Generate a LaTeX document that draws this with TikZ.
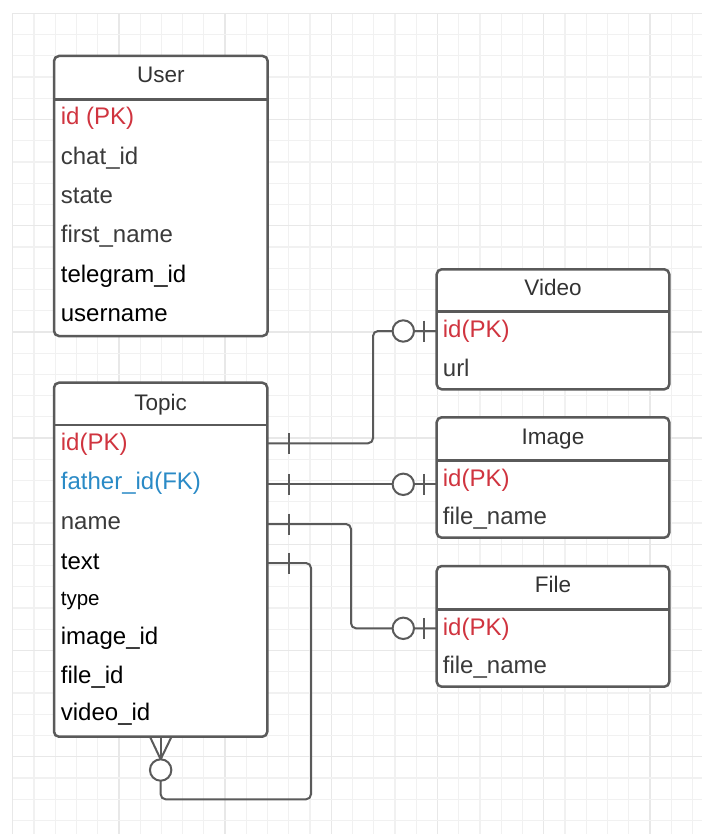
\documentclass[tikz,border=0pt]{standalone}
\usepackage{fontspec}
\setmainfont{Liberation Sans}
\usetikzlibrary{calc}
\definecolor{edgegray}{HTML}{5A5A5A}
\definecolor{headgray}{HTML}{333333}
\definecolor{softtext}{HTML}{3A3A3A}
\definecolor{pkred}{HTML}{D0343F}
\definecolor{fkblue}{HTML}{2A8AC6}
\definecolor{gridminor}{HTML}{F1F1F1}
\definecolor{gridmajor}{HTML}{E8E8E8}
\tikzset{
  tbl/.style={draw=edgegray, line width=2.5pt, fill=white, rounded corners=5pt,
    anchor=north west, inner sep=0pt, outer sep=0pt},
  tblrule/.style={draw=edgegray, line width=2.5pt},
  header/.style={anchor=base, inner sep=0pt, text=headgray,
    font=\fontsize{22.5}{26}\selectfont},
  field/.style={anchor=base west, inner sep=0pt, text=softtext,
    font=\fontsize{24}{28}\selectfont},
  blackfield/.style={field, text=black},
  pkfield/.style={field, text=pkred},
  fkfield/.style={field, text=fkblue},
  conn/.style={draw=edgegray, line width=2pt},
  tickmark/.pic={\draw[conn] (0,-10.5) -- (0,10.5);},
  ring/.pic={\draw[conn, fill=white] (0,0) circle[radius=10.7];}
}
\begin{document}
\begin{tikzpicture}[x=1pt,y=-1pt]
\useasboundingbox (0,0) rectangle (702,834);
\fill[white] (0,0) rectangle (702,834);

% background grid
\foreach \k in {0,...,32}{
  \pgfmathtruncatemacro\m{mod(\k,5)}
  \ifnum\m=0
    \draw[gridmajor, line width=1.4pt] (12.7+21.24*\k,13.3) -- (12.7+21.24*\k,834);
  \else
    \draw[gridminor, line width=1.2pt] (12.7+21.24*\k,13.3) -- (12.7+21.24*\k,834);
  \fi
}
\foreach \k in {0,...,38}{
  \pgfmathtruncatemacro\m{mod(\k,5)}
  \ifnum\m=0
    \draw[gridmajor, line width=1.4pt] (12.7,13.3+21.24*\k) -- (702,13.3+21.24*\k);
  \else
    \draw[gridminor, line width=1.2pt] (12.7,13.3+21.24*\k) -- (702,13.3+21.24*\k);
  \fi
}

% ---------- User ----------
\node[tbl, minimum width=213.7pt, minimum height=280pt] (user) at (54,56) {};
\coordinate (userrule) at (0,99.3);
\draw[tblrule] (user.west |- userrule) -- (user.east |- userrule);
\node[header] (userhead) at (160.8,82.7) {User};
\node[pkfield] (u1) at (60.7,125.0) {id (PK)};
\node[field] (u2) at (60.7,164.3) {chat\_id};
\node[field] (u3) at (60.7,203.6) {state};
\node[field] (u4) at (60.7,242.9) {first\_name};
\node[blackfield] (u5) at (60.7,282.2) {telegram\_id};
\node[blackfield] (u6) at (60.7,321.5) {username};

% ---------- Topic ----------
\node[tbl, minimum width=213.3pt, minimum height=354pt] (topic) at (54,382.7) {};
\coordinate (topicrule) at (0,425);
\draw[tblrule] (topic.west |- topicrule) -- (topic.east |- topicrule);
\node[header] (topichead) at (160.7,410) {Topic};
\node[pkfield] (t1) at (60.7,450.0) {id(PK)};
\node[fkfield] (t2) at (60.7,489.3) {father\_id(FK)};
\node[field] (t3) at (60.7,529.3) {name};
\node[blackfield] (t4) at (60.7,569.0) {text};
\node[blackfield, font=\fontsize{20.5}{24}\selectfont] (t5) at (60.7,605.6) {type};
\node[blackfield] (t6) at (60.7,644.0) {image\_id};
\node[blackfield] (t7) at (60.7,683.3) {file\_id};
\node[blackfield] (t8) at (60.7,720.6) {video\_id};

% ---------- Video ----------
\node[tbl, minimum width=232.6pt, minimum height=120pt] (video) at (436.7,269.3) {};
\coordinate (videorule) at (0,311.7);
\draw[tblrule] (video.west |- videorule) -- (video.east |- videorule);
\node[header] (videohead) at (553,295) {Video};
\node[pkfield] (v1) at (442.7,337.6) {id(PK)};
\node[field] (v2) at (442.7,376.0) {url};

% ---------- Image ----------
\node[tbl, minimum width=232.6pt, minimum height=120.4pt] (image) at (436.7,417.3) {};
\coordinate (imagerule) at (0,460.7);
\draw[tblrule] (image.west |- imagerule) -- (image.east |- imagerule);
\node[header] (imagehead) at (553,444.3) {Image};
\node[pkfield] (i1) at (442.7,486.6) {id(PK)};
\node[field] (i2) at (442.7,524.3) {file\_name};

% ---------- File ----------
\node[tbl, minimum width=232.6pt, minimum height=120.7pt] (file) at (436.7,566) {};
\coordinate (filerule) at (0,609.3);
\draw[tblrule] (file.west |- filerule) -- (file.east |- filerule);
\node[header] (filehead) at (553,592.3) {File};
\node[pkfield] (f1) at (442.7,635.0) {id(PK)};
\node[field] (f2) at (442.7,673.3) {file\_name};

% ---------- relationships ----------
\coordinate (rid) at (0,443.3);
\coordinate (rfather) at (0,484.3);
\coordinate (rname) at (0,524);
\coordinate (rtext) at (0,563);
\coordinate (rvideo) at (0,331);
\coordinate (rfile) at (0,628.3);
\coordinate (bendA) at (373,0);
\coordinate (bendB) at (351,0);
\coordinate (bendC) at (311,0);
\coordinate (loopbottom) at (0,799.3);

% Topic.id -> Video.id
\draw[conn, rounded corners=5pt] (topic.east |- rid) -| (bendA |- rvideo) -- (video.west |- rvideo);
% Topic.father_id -> Image.id
\draw[conn] (topic.east |- rfather) -- (image.west |- rfather);
% Topic.name -> File.id
\draw[conn, rounded corners=5pt] (topic.east |- rname) -| (bendB |- rfile) -- (file.west |- rfile);
% Topic.text -> Topic (self reference)
\draw[conn, rounded corners=5pt] (topic.east |- rtext) -| (bendC |- loopbottom) -| ($(topic.south)+(0,44)$);

% one-side ticks at Topic
\foreach \r in {rid,rfather,rname,rtext}
  \pic at ($(topic.east |- \r)+(22,0)$) {tickmark};
% zero-or-one ends
\foreach \t/\r in {video/rvideo,image/rfather,file/rfile}{
  \pic at ($(\t.west |- \r)+(-33.4,0)$) {ring};
  \pic at ($(\t.west |- \r)+(-12.7,0)$) {tickmark};
}
% zero-or-many end below Topic
\coordinate (crow) at ($(topic.south)+(0,22.6)$);
\draw[conn] (crow) -- ($(topic.south)+(-10.7,0)$);
\draw[conn] (crow) -- (topic.south);
\draw[conn] (crow) -- ($(topic.south)+(10.9,0)$);
\pic at ($(topic.south)+(0,33.3)$) {ring};
\end{tikzpicture}
\end{document}
